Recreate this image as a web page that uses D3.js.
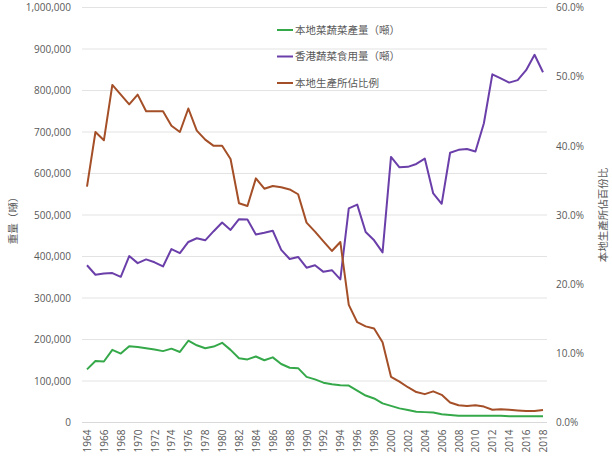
<!DOCTYPE html>
<html>
<head>
<meta charset="utf-8">
<script src="https://cdn.jsdelivr.net/npm/d3@7"></script>
<style>
  html, body { margin: 0; padding: 0; background: #fff; }
  svg { display: block; }
  text { font-family: "Open Sans", "Noto Sans CJK TC", sans-serif; fill: #595959; }
  .cjk { font-family: "Noto Sans CJK TC", "Noto Sans", sans-serif; }
</style>
</head>
<body>
<svg id="chart" width="612" height="469"></svg>
<script>
const years = d3.range(1964, 2019);
const seriesNames = ["本地菜蔬菜產量（噸）", "香港蔬菜食用量（噸）", "本地生產所佔比例"];
const localProduction = [
  128000, 148000, 147000, 175000, 166000, 184000, 182000, 179000, 176000, 172000,
  178000, 170000, 197000, 186000, 179000, 183000, 192000, 175000, 155000, 152000,
  159000, 150000, 157000, 141000, 132000, 131000, 110000, 104000, 96000, 92000,
  90000, 89000, 77000, 65000, 58000, 46000, 40000, 34000, 30000, 26000,
  25000, 24000, 20000, 18000, 16000, 16000, 16000, 16000, 16000, 16000,
  15000, 15000, 15000, 15000, 15000
];
const consumption = [
  379000, 356000, 359000, 360000, 351000, 401000, 384000, 393000, 386000, 376000,
  418000, 408000, 435000, 444000, 439000, 461000, 482000, 464000, 490000, 489000,
  453000, 457000, 462000, 416000, 394000, 399000, 373000, 379000, 363000, 367000,
  345000, 516000, 525000, 459000, 439000, 410000, 640000, 615000, 616000, 623000,
  636000, 552000, 527000, 650000, 657000, 659000, 653000, 721000, 839000, 829000,
  819000, 825000, 849000, 886000, 844000
];
const localShare = [
  34.1, 42.0, 40.8, 48.8, 47.4, 46.0, 47.4, 45.0, 45.0, 45.0,
  42.9, 42.0, 45.4, 42.2, 40.9, 40.0, 40.0, 38.1, 31.7, 31.3,
  35.3, 33.8, 34.2, 34.0, 33.7, 33.0, 28.9, 27.6, 26.2, 24.8,
  26.1, 17.0, 14.5, 13.9, 13.6, 11.6, 6.6, 5.9, 5.1, 4.4,
  4.1, 4.5, 4.0, 2.9, 2.5, 2.4, 2.5, 2.3, 1.85, 1.9,
  1.85, 1.75, 1.66, 1.66, 1.8
];
const leftTicks = d3.range(0, 1000001, 100000);
const rightTicks = d3.range(0, 61, 10);
const xTickYears = d3.range(1964, 2019, 2);
const leftTitle = "重量（噸）";
const rightTitle = "本地生產所佔百份比";

const colors = ["#35a94a", "#6b3fa9", "#a44f27"];

const svg = d3.select("#chart");
const plotLeft = 82, plotRight = 547, plotTop = 7.5, plotBottom = 422.5;

const x = d3.scaleLinear().domain([1964, 2018]).range([87, 543]);
const y = d3.scaleLinear().domain([0, 1000000]).range([plotBottom, plotTop]);
const yR = d3.scaleLinear().domain([0, 60]).range([plotBottom, plotTop]);

// gridlines
svg.append("g").selectAll("line").data(leftTicks.filter(d => d > 0)).join("line")
  .attr("x1", plotLeft).attr("x2", plotRight)
  .attr("y1", d => y(d)).attr("y2", d => y(d))
  .attr("stroke", "#e3e3e3").attr("stroke-width", 1);

// left axis
const leftAxis = svg.append("g").attr("transform", `translate(${plotLeft - 11},0)`)
  .call(d3.axisLeft(y).tickValues(leftTicks).tickSize(0).tickPadding(0).tickFormat(d3.format(",")));
leftAxis.select(".domain").remove();
leftAxis.selectAll("text").attr("font-size", 10).attr("font-family", "'Open Sans', sans-serif").attr("fill", "#595959");

// right axis
const rightAxis = svg.append("g").attr("transform", `translate(${plotRight + 9},0)`)
  .call(d3.axisRight(yR).tickValues(rightTicks).tickSize(0).tickPadding(0).tickFormat(d => d.toFixed(1) + "%"));
rightAxis.select(".domain").remove();
rightAxis.selectAll("text").attr("font-size", 10).attr("font-family", "'Open Sans', sans-serif").attr("fill", "#595959");

// bottom axis line
svg.append("line").attr("x1", plotLeft).attr("x2", plotRight)
  .attr("y1", plotBottom).attr("y2", plotBottom)
  .attr("stroke", "#d9d9d9").attr("stroke-width", 1);

// x tick labels
const xAxis = svg.append("g").attr("transform", `translate(0,${plotBottom})`)
  .call(d3.axisBottom(x).tickValues(xTickYears).tickSize(0).tickFormat(d3.format("d")));
xAxis.select(".domain").remove();
xAxis.selectAll("text")
  .attr("font-size", 10).attr("font-family", "'Open Sans', sans-serif").attr("fill", "#595959")
  .attr("transform", "rotate(-90)")
  .attr("text-anchor", "end")
  .attr("x", -7).attr("y", 0).attr("dy", "0.35em");

// lines
const lineL = d3.line().x((d, i) => x(years[i])).y(d => y(d));
const lineR = d3.line().x((d, i) => x(years[i])).y(d => yR(d));

svg.append("path").datum(localProduction).attr("d", lineL)
  .attr("fill", "none").attr("stroke", colors[0]).attr("stroke-width", 2).attr("stroke-linejoin", "round");
svg.append("path").datum(consumption).attr("d", lineL)
  .attr("fill", "none").attr("stroke", colors[1]).attr("stroke-width", 2).attr("stroke-linejoin", "round");
svg.append("path").datum(localShare).attr("d", lineR)
  .attr("fill", "none").attr("stroke", colors[2]).attr("stroke-width", 2).attr("stroke-linejoin", "round");

// legend
const legendY = [30, 56.5, 83];
const lg = svg.append("g");
seriesNames.forEach((name, i) => {
  lg.append("line").attr("x1", 277).attr("x2", 293)
    .attr("y1", legendY[i]).attr("y2", legendY[i])
    .attr("stroke", colors[i]).attr("stroke-width", 2);
  lg.append("text").attr("class", "cjk").attr("x", 295).attr("y", legendY[i])
    .attr("dy", "0.35em").attr("font-size", 10.5).text(name);
});

// axis titles
svg.append("text").attr("class", "cjk")
  .attr("transform", "translate(13,218) rotate(-90)")
  .attr("text-anchor", "middle").attr("dy", "0.35em")
  .attr("font-size", 10.5).text(leftTitle);
svg.append("text").attr("class", "cjk")
  .attr("transform", "translate(603,215) rotate(-90)")
  .attr("text-anchor", "middle").attr("dy", "0.35em")
  .attr("font-size", 10.5).text(rightTitle);
</script>
</body>
</html>
